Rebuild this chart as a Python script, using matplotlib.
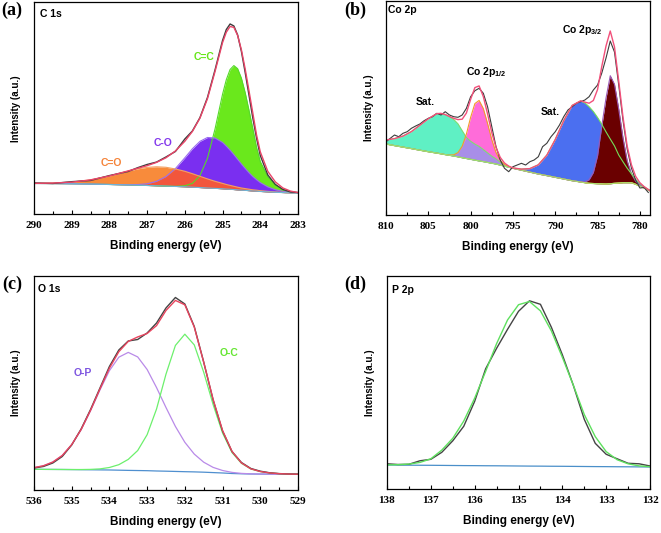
import numpy as np
import matplotlib
matplotlib.use("Agg")
import matplotlib.pyplot as plt
from matplotlib.ticker import MultipleLocator

plt.rcParams['font.family'] = ['Liberation Sans', 'DejaVu Sans']
plt.rcParams['font.weight'] = 'bold'
plt.rcParams['mathtext.fontset'] = 'custom'
plt.rcParams['mathtext.rm'] = 'Liberation Sans:bold'
plt.rcParams['mathtext.it'] = 'Liberation Sans:bold'
plt.rcParams['mathtext.bf'] = 'Liberation Sans:bold'

# ---- (a) C 1s ----
c1s_energy = [290, 289.5, 289, 288.5, 288, 287.5, 287.25, 287, 286.75, 286.5, 286.25, 286,
              285.8, 285.6, 285.4, 285.2, 285.0, 284.9, 284.8, 284.7, 284.6, 284.5, 284.4,
              284.3, 284.2, 284.1, 284.0, 283.8, 283.6, 283.4, 283.2, 283.0]
c1s_background = [31.0, 30.9, 30.7, 30.4, 30.0, 29.5, 29.3, 29.0, 28.7, 28.4, 28.0, 27.7,
                  27.3, 26.9, 26.5, 26.1, 25.7, 25.4, 25.2, 24.9, 24.6, 24.3, 24.1,
                  23.8, 23.5, 23.3, 23.0, 22.6, 22.2, 21.9, 21.6, 21.3]
c1s_c_dbl_o = [0.1, 0.5, 1.6, 4.2, 8.5, 13.9, 16.3, 18.1, 19.0, 18.8, 17.5, 15.5,
               13.5, 11.3, 9.1, 7.1, 5.4, 4.6, 3.9, 3.3, 2.7, 2.2, 1.8,
               1.5, 1.2, 1.0, 0.8, 0.5, 0.3, 0.2, 0.1, 0.0]
c1s_c_o = [0, 0, 0, 0, 0, 0.2, 0.6, 1.7, 4.4, 9.5, 17.9, 29.0,
           38.4, 46.2, 50.5, 50.4, 46.3, 42.9, 39.1, 34.9, 30.5, 26.1, 21.9,
           18.0, 14.5, 11.5, 8.9, 5.0, 2.6, 1.2, 0.5, 0.2]
c1s_c_dbl_c = [0, 0, 0, 0, 0, 0, 0, 0, 0, 0, 0.1, 1.0,
               3.8, 11.9, 29.7, 59.3, 94.5, 109.4, 119.8, 124.0, 121.2, 112.0, 97.7,
               80.6, 62.8, 44.0, 30.0, 15.0, 7.5, 3.2, 1.2, 0.4]
c1s_raw = [31.5, 31.0, 32.8, 34.0, 38.9, 43.0, 46.8, 50.0, 52.4, 57.5, 63.0, 75.5,
           83.5, 96.8, 117.0, 144.5, 174.0, 185.0, 190.5, 188.5, 179.5, 163.0, 142.0,
           119.5, 97.0, 76.5, 59.0, 39.5, 30.0, 25.0, 22.5, 22.0]

# ---- (b) Co 2p ----
co2p_energy = [810, 809, 808, 807, 806, 805, 804,
               803.5, 803, 802.5, 802, 801.5, 801, 800.5, 800, 799.5, 799, 798.5, 798,
               797.5, 797, 796.5, 796, 795.5, 795,
               794, 793, 792, 791, 790, 789, 788, 787,
               786.5, 786, 785.5, 785, 784.5, 784, 783.5, 783, 782.5, 782, 781.5, 781,
               780.5, 780, 779.5, 779, 778.8]
co2p_background = [71.0, 69.4, 67.9, 66.4, 64.8, 63.3, 61.9,
                   61.2, 60.4, 59.7, 59.0, 58.2, 57.3, 56.5, 55.7, 54.9, 54.1, 53.4, 52.6,
                   51.8, 51.0, 49.9, 48.9, 47.8, 46.7,
                   44.8, 42.9, 41.0, 39.4, 37.7, 36.0, 34.3, 33.0,
                   32.3, 31.7, 31.5, 31.3, 31.2, 31.0, 31.3, 31.7, 32.0, 32.3, 32.3, 32.3,
                   30.7, 29.0, 27.0, 25.0, 24.2]
co2p_sat_high = [4, 7, 11, 17, 25, 33, 39.5,
                 40.4, 40, 38.5, 36.5, 33, 27, 21, 18, 16, 14.5, 12, 9.5,
                 7, 5, 3, 1.5, 0.5, 0,
                 0, 0, 0, 0, 0, 0, 0, 0,
                 0, 0, 0, 0, 0, 0, 0, 0, 0, 0, 0, 0,
                 0, 0, 0, 0, 0]
co2p_half = [0, 0, 0, 0, 0, 0, 0,
             0, 0, 0.3, 1.2, 4.2, 11.5, 24.5, 42, 56.5, 60.5, 53, 39,
             23.5, 11.5, 4.7, 1.6, 0.5, 0.1,
             0, 0, 0, 0, 0, 0, 0, 0,
             0, 0, 0, 0, 0, 0, 0, 0, 0, 0, 0, 0,
             0, 0, 0, 0, 0]
co2p_sat_low = [0, 0, 0, 0, 0, 0, 0,
                0, 0, 0, 0, 0, 0, 0, 0, 0, 0, 0, 0,
                0, 0, 0, 0, 0.1, 0.3,
                1.1, 3.5, 9.2, 20.4, 37.8, 58.4, 75.3, 81.0,
                79.8, 76.6, 72.0, 66.2, 59.5, 52.1, 44.7, 37.4, 28.0, 21.0, 14.5, 9.0,
                5.0, 2.5, 1.2, 0.5, 0.3]
co2p_three_half = [0, 0, 0, 0, 0, 0, 0,
                   0, 0, 0, 0, 0, 0, 0, 0, 0, 0, 0, 0,
                   0, 0, 0, 0, 0, 0,
                   0, 0, 0, 0, 0, 0, 0, 0.2,
                   0.8, 3.5, 11, 28, 58, 86, 108, 99, 74, 45, 22, 9,
                   3, 0.8, 0.2, 0, 0]
co2p_raw_energy = [810, 809.5, 809, 808.5, 808, 807.5, 807, 806.5, 806, 805.5, 805, 804.5,
                   804, 803.5, 803, 802.5, 802, 801.5, 801, 800.5, 800, 799.5, 799, 798.5,
                   798, 797.5, 797, 796.5, 796, 795.5, 795, 794.5, 794, 793.5, 793, 792.5,
                   792, 791.5, 791, 790.5, 790, 789.5, 789, 788.5, 788, 787.5, 787, 786.5,
                   786, 785.5, 785, 784.5, 784, 783.5, 783, 782.5, 782, 781.5, 781, 780.5,
                   780, 779.5, 779]
co2p_raw = [73.3, 76.7, 80.0, 78.3, 81.7, 83.3, 86.7, 89.0, 91.0, 94.3, 96.7, 98.3,
            101.7, 100.0, 103.3, 100.0, 98.3, 97.7, 100.0, 106.7, 118.3, 124.3, 126.7, 121.7,
            108.3, 88.3, 68.3, 55.0, 46.7, 43.3, 48.3, 50.0, 51.7, 50.0, 53.3, 55.0,
            58.3, 68.3, 71.7, 78.3, 83.3, 90.0, 98.3, 105.0, 108.3, 111.7, 113.3, 115.0,
            118.3, 125.0, 130.0, 142.0, 157.0, 174.0, 163.0, 130.0, 95.0, 66.0, 47.0, 35.0,
            27.0, 27.5, 22.5]

# ---- (c) O 1s ----
o1s_energy = [536, 535.75, 535.5, 535.25, 535, 534.75, 534.5, 534.25, 534, 533.75, 533.5,
              533.25, 533, 532.75, 532.5, 532.25, 532, 531.75, 531.5, 531.25, 531, 530.75,
              530.5, 530.25, 530, 529.75, 529.5, 529.25, 529]
o1s_background = [20.7, 20.6, 20.55, 20.5, 20.4, 20.3, 20.2, 20.1, 20.0, 19.8, 19.6,
                  19.45, 19.3, 19.0, 18.8, 18.55, 18.3, 18.1, 17.8, 17.4, 17.0, 16.5,
                  16.2, 16.0, 15.9, 15.85, 15.8, 15.75, 15.7]
o1s_o_p = [1.6, 3.6, 7.4, 14.0, 24.9, 40.0, 59.1, 80.0, 99.3, 113.0, 118.0,
           113.6, 101.2, 83.4, 63.7, 45.0, 29.4, 17.8, 10.0, 5.2, 2.5, 1.1,
           0.4, 0.15, 0.05, 0, 0, 0, 0]
o1s_o_c = [0, 0, 0, 0, 0.05, 0.15, 0.4, 1.0, 2.5, 5.5, 11.0,
           20.0, 36.0, 62.0, 97.0, 126.0, 137.5, 127.0, 100.0, 68.0, 40.0, 21.0,
           10.5, 5.0, 2.5, 1.2, 0.5, 0.2, 0.1]
o1s_raw = [22.0, 23.5, 27.0, 33.5, 45.0, 61.0, 80.5, 102.0, 123.5, 140.0, 149.0,
           150.5, 157.0, 167.0, 182.0, 192.5, 186.0, 163.5, 128.0, 90.0, 59.0, 38.5,
           27.5, 21.5, 18.8, 17.2, 16.4, 16.0, 15.8]

# ---- (d) P 2p ----
p2p_energy = [138, 137.75, 137.5, 137.25, 137, 136.75, 136.5, 136.25, 136, 135.75, 135.5,
              135.25, 135, 134.75, 134.5, 134.25, 134, 133.75, 133.5, 133.25, 133, 132.75,
              132.5, 132.25, 132]
p2p_background = [24.3, 24.2, 24.1, 24.05, 24.0, 23.9, 23.8, 23.7, 23.65, 23.55, 23.5,
                  23.4, 23.3, 23.2, 23.15, 23.05, 23.0, 22.9, 22.8, 22.7, 22.65, 22.55,
                  22.5, 22.4, 22.3]
p2p_peak = [0.1, 0.4, 1.1, 2.8, 6.5, 15.3, 27.2, 44.5, 67.5, 94.4, 122.2,
            146.0, 161.3, 164.6, 155.3, 135.3, 109.0, 81.2, 52.0, 30.0, 15.0, 7.0,
            3.0, 1.0, 0.3]
p2p_raw = [25.5, 24.8, 25.0, 28.5, 30.0, 37.0, 48.5, 63.0, 88.0, 120.5, 141.0,
           160.0, 178.0, 188.5, 185.0, 162.0, 134.5, 104.0, 70.0, 46.0, 35.0, 30.5,
           26.0, 25.5, 23.3]


def style_axis(ax, xlim, ytop, ticks, minor):
    ax.set_xlim(*xlim)
    ax.set_ylim(0, ytop)
    ax.set_yticks([])
    ax.set_xticks(ticks, labels=[f"{t:g}" for t in ticks])
    ax.xaxis.set_minor_locator(MultipleLocator(minor))
    ax.tick_params(axis='x', which='major', direction='in', length=3, width=0.8, pad=5,
                   labelsize=8, labelfontfamily='Liberation Serif')
    ax.tick_params(axis='x', which='minor', direction='in', length=2, width=0.8)
    for sp in ax.spines.values():
        sp.set_linewidth(0.9)
    ax.set_xlabel('Binding energy (eV)', fontsize=8.5, fontweight='bold', labelpad=7)
    ax.set_ylabel('Intensity (a.u.)', fontsize=7, fontweight='bold', labelpad=9)


def plot_c1s(ax):
    x = np.array(c1s_energy)
    bg = np.array(c1s_background)
    c_dbl_o = bg + np.array(c1s_c_dbl_o)
    c_o = bg + np.array(c1s_c_o)
    c_dbl_c = bg + np.array(c1s_c_dbl_c)
    envelope = bg + np.array(c1s_c_dbl_o) + np.array(c1s_c_o) + np.array(c1s_c_dbl_c)

    ax.fill_between(x, bg, c_dbl_c, color='#6ae81c', lw=0)
    ax.fill_between(x, bg, c_o, color='#7a2ff0', lw=0)
    ax.fill_between(x, bg, c_dbl_o, color='#f88b3b', lw=0)
    ax.fill_between(x, bg, np.minimum(c_dbl_o, c_o), color='#f2563c', lw=0)
    ax.plot(x, c_dbl_c, color='#55d92a', lw=0.8)
    ax.plot(x, c_o, color='#9a6cf0', lw=0.8)
    ax.plot(x, c_dbl_o, color='#f5a060', lw=0.8)
    ax.plot(x, bg, color='#6db6d8', lw=0.8)
    ax.plot(x, c1s_raw, color='#3c3c3c', lw=1.0)
    ax.plot(x, envelope, color='#ea4468', lw=1.0)

    ax.text(285.49, 157.6, 'C=C', color='#66e619', fontsize=7.5, fontweight='bold',
            ha='center', va='center')
    ax.text(286.57, 71, 'C-O', color='#8338ec', fontsize=7.5, fontweight='bold',
            ha='center', va='center')
    ax.text(287.94, 51, 'C=O', color='#f5843a', fontsize=7.5, fontweight='bold',
            ha='center', va='center')
    ax.text(0.023, 0.944, 'C 1s', transform=ax.transAxes, fontsize=7.5,
            fontweight='bold', va='center')
    style_axis(ax, (290, 283), 212.5, list(range(290, 282, -1)), 0.5)


def plot_co2p(ax):
    x = np.array(co2p_energy)
    bg = np.array(co2p_background)
    sat_high = bg + np.array(co2p_sat_high)
    half = bg + np.array(co2p_half)
    sat_low = bg + np.array(co2p_sat_low)
    three_half = bg + np.array(co2p_three_half)
    envelope = (bg + np.array(co2p_sat_high) + np.array(co2p_half)
                + np.array(co2p_sat_low) + np.array(co2p_three_half))

    ax.fill_between(x, bg, sat_high, color='#5ff0c4', lw=0)
    ax.fill_between(x, bg, half, color='#ff6cd9', lw=0)
    ax.fill_between(x, bg, np.minimum(sat_high, half), color='#a88ee8', lw=0)
    ax.fill_between(x, bg, sat_low, color='#4b6ff0', lw=0)
    ax.fill_between(x, bg, three_half, color='#6a0000', lw=0)
    ax.plot(x, sat_high, color='#7fdc70', lw=0.8)
    ax.plot(x, half, color='#f29b2b', lw=0.8)
    ax.plot(x, three_half, color='#9b59b6', lw=0.8)
    ax.plot(x, sat_low, color='#74e05a', lw=0.8)
    ax.plot(x, bg, color='#a8e070', lw=0.8)
    ax.plot(co2p_raw_energy, co2p_raw, color='#3c3c3c', lw=0.8)
    ax.plot(x, envelope, color='#f2507a', lw=1.0)

    ax.text(786.77, 185, r'Co 2p$_{3/2}$', fontsize=7.5, fontweight='bold',
            ha='center', va='center')
    ax.text(798.1, 143.3, r'Co 2p$_{1/2}$', fontsize=7.5, fontweight='bold',
            ha='center', va='center')
    ax.text(805.4, 113.3, 'Sat.', fontsize=7.5, fontweight='bold', ha='center', va='center')
    ax.text(790.6, 103.3, 'Sat.', fontsize=7.5, fontweight='bold', ha='center', va='center')
    ax.text(0.008, 0.958, 'Co 2p', transform=ax.transAxes, fontsize=7.5,
            fontweight='bold', va='center')
    style_axis(ax, (810, 778.8), 214, list(range(810, 778, -5)), 2.5)


def plot_o1s(ax):
    x = np.array(o1s_energy)
    bg = np.array(o1s_background)
    o_p = bg + np.array(o1s_o_p)
    o_c = bg + np.array(o1s_o_c)
    envelope = bg + np.array(o1s_o_p) + np.array(o1s_o_c)

    ax.plot(x, bg, color='#4f8fcf', lw=0.9)
    ax.plot(x, o_p, color='#b98ae8', lw=0.9)
    ax.plot(x, o_c, color='#6cf06c', lw=0.9)
    ax.plot(x, o1s_raw, color='#444444', lw=1.0)
    ax.plot(x, envelope, color='#e8445e', lw=1.0)

    ax.text(534.7, 117.3, 'O-P', color='#7d55e0', fontsize=7.5, fontweight='bold',
            ha='center', va='center')
    ax.text(530.82, 136.7, 'O-C', color='#66e633', fontsize=7.5, fontweight='bold',
            ha='center', va='center')
    ax.text(0.015, 0.94, 'O 1s', transform=ax.transAxes, fontsize=7.5,
            fontweight='bold', va='center')
    style_axis(ax, (536, 529), 214, list(range(536, 528, -1)), 0.5)


def plot_p2p(ax):
    x = np.array(p2p_energy)
    bg = np.array(p2p_background)
    fit = bg + np.array(p2p_peak)

    ax.plot(x, bg, color='#4a8fc9', lw=0.9)
    ax.plot(x, p2p_raw, color='#444444', lw=1.0)
    ax.plot(x, fit, color='#5ee05e', lw=1.0)

    ax.text(0.019, 0.935, 'P 2p', transform=ax.transAxes, fontsize=7.5,
            fontweight='bold', va='center')
    style_axis(ax, (138, 132), 213, list(range(138, 131, -1)), 0.5)


fig = plt.figure(figsize=(6.61, 5.33), dpi=100)
ax_a = fig.add_axes([0.0514, 0.5976, 0.3994, 0.3987])
ax_b = fig.add_axes([0.5840, 0.5966, 0.3994, 0.4015])
ax_c = fig.add_axes([0.0514, 0.0807, 0.3994, 0.4015])
ax_d = fig.add_axes([0.5855, 0.0820, 0.3979, 0.3996])

plot_c1s(ax_a)
plot_co2p(ax_b)
plot_o1s(ax_c)
plot_p2p(ax_d)

for label, (fx, fy) in zip(['(a)', '(b)', '(c)', '(d)'],
                           [(0.002, 0.997), (0.521, 0.997), (0.004, 0.483), (0.521, 0.483)]):
    fig.text(fx, fy, label, fontfamily='Liberation Serif', fontweight='bold',
             fontsize=13, ha='left', va='top')

fig.savefig('out.png', dpi=100)
